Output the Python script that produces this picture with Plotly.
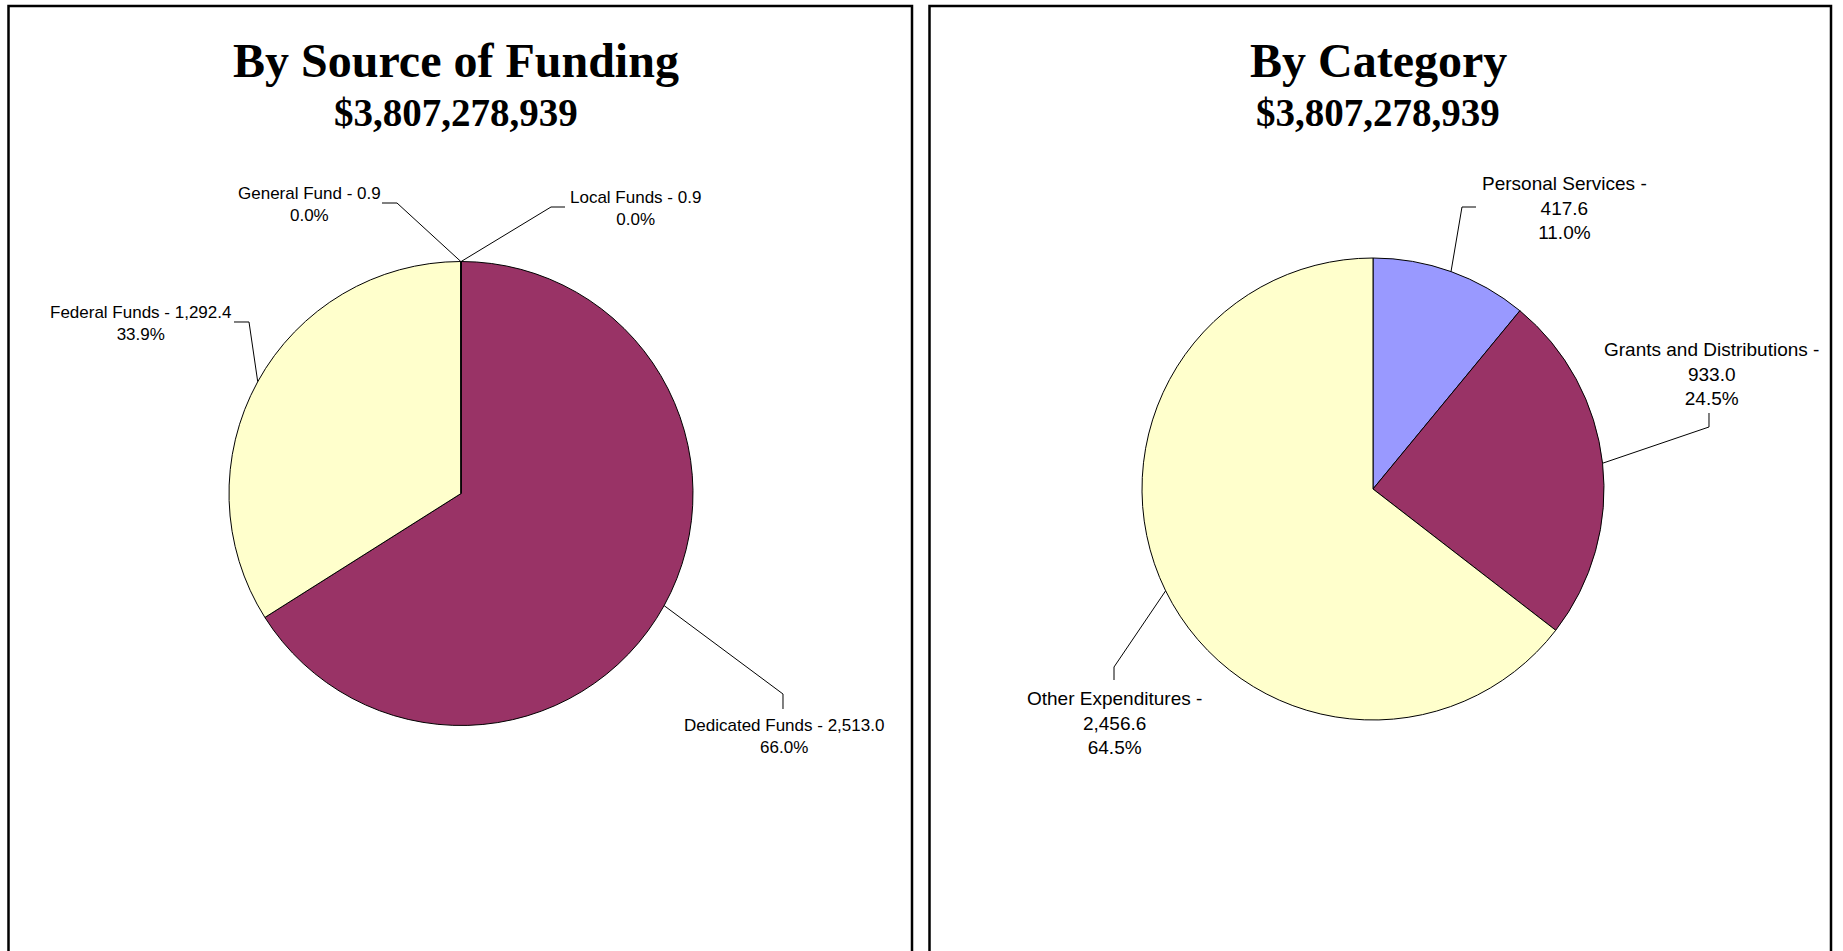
import math
import plotly.graph_objects as go

# ── Data (millions of dollars) ─────────────────────────
FUNDING_NAMES = ["Local Funds", "Dedicated Funds", "Federal Funds", "General Fund"]
FUNDING_VALUES = [0.9, 2513.0, 1292.4, 0.9]

CATEGORY_NAMES = ["Personal Services", "Grants and Distributions", "Other Expenditures"]
CATEGORY_VALUES = [417.6, 933.0, 2456.6]

PANEL_TITLES = ["By Source of Funding", "By Category"]
TOTAL_TEXT = "$3,807,278,939"

# old Excel chart palette
PALETTE = ["#9999FF", "#993366", "#FFFFCC", "#CCFFFF"]

# ── Layout (pixels in the 1843x951 page) ───────────────
W, H = 1843, 951
PANELS = [(8.5, 912), (929.5, 1831)]
PANEL_TOP = 6
PIES = [dict(cx=461, cy=493.5, r=232), dict(cx=1373, cy=489, r=231)]
TITLE_X = [456, 1378]

# label centre + leader elbow points (from the slice edge outwards)
FUNDING_LABELS = [
    dict(pos=(635.5, 208.5), leader=[(551, 207), (565, 207)]),
    dict(pos=(783.5, 736.5), leader=[(783, 694), (783, 709)]),
    dict(pos=(140, 323), leader=[(249, 322), (234, 322)]),
    dict(pos=(309, 204), leader=[(397, 203), (382, 203)]),
]
CATEGORY_LABELS = [
    dict(pos=(1564, 208.5), leader=[(1462, 207), (1476, 207)]),
    dict(pos=(1711, 374), leader=[(1709, 427), (1709, 413)]),
    dict(pos=(1114, 723), leader=[(1114, 667), (1114, 680)]),
]


def px(x, y):
    return x / W, 1 - y / H


def edge_point(values, i, pie):
    total = sum(values)
    mid = (sum(values[:i]) + values[i] / 2) / total * 2 * math.pi
    return pie["cx"] + pie["r"] * math.sin(mid), pie["cy"] - pie["r"] * math.cos(mid)


def domain(pie):
    x0, y0 = px(pie["cx"] - pie["r"], pie["cy"] + pie["r"])
    x1, y1 = px(pie["cx"] + pie["r"], pie["cy"] - pie["r"])
    return dict(x=[x0, x1], y=[y0, y1])


fig = go.Figure()
annotations = []
shapes = []


def add_pie(names, values, pie, labels, wrap, font_size):
    total = sum(values)
    fig.add_trace(go.Pie(
        labels=names, values=values, sort=False, direction="clockwise", rotation=0,
        marker=dict(colors=PALETTE[:len(values)], line=dict(color="black", width=1)),
        textinfo="none", hoverinfo="label+value+percent", domain=domain(pie), showlegend=False,
    ))
    for i, (name, val) in enumerate(zip(names, values)):
        pct = f"{val / total * 100:.1f}%"
        if wrap:
            text = f"{name} -<br>{val:,.1f}<br>{pct}"
        else:
            text = f"{name} - {val:,.1f}<br>{pct}"
        lab = labels[i]
        x, y = px(*lab["pos"])
        annotations.append(dict(
            x=x, y=y, xref="paper", yref="paper", text=text, showarrow=False,
            xanchor="center", yanchor="middle",
            font=dict(family="Liberation Sans, Arial", size=font_size, color="black"),
        ))
        pts = [edge_point(values, i, pie)] + lab["leader"]
        path = ""
        for j, p in enumerate(pts):
            qx, qy = px(*p)
            path += ("M" if j == 0 else " L") + f" {qx:.5f} {qy:.5f}"
        shapes.append(dict(type="path", xref="paper", yref="paper", path=path,
                           line=dict(color="black", width=1)))


add_pie(FUNDING_NAMES, FUNDING_VALUES, PIES[0], FUNDING_LABELS, False, 17)
add_pie(CATEGORY_NAMES, CATEGORY_VALUES, PIES[1], CATEGORY_LABELS, True, 19)

for (x0, x1), title, tx in zip(PANELS, PANEL_TITLES, TITLE_X):
    a, b = px(x0, PANEL_TOP)
    c, d = px(x1, H + 20)
    shapes.append(dict(type="rect", xref="paper", yref="paper", x0=a, x1=c, y0=d, y1=b,
                       line=dict(color="black", width=2.5)))
    tx_, ty = px(tx, 60)
    annotations.append(dict(x=tx_, y=ty, xref="paper", yref="paper", text=title, showarrow=False,
                            xanchor="center", yanchor="middle",
                            font=dict(family="Liberation Serif, Times New Roman", size=48,
                                      color="black", weight="bold")))
    tx_, ty = px(tx, 112)
    annotations.append(dict(x=tx_, y=ty, xref="paper", yref="paper", text=TOTAL_TEXT, showarrow=False,
                            xanchor="center", yanchor="middle",
                            font=dict(family="Liberation Serif, Times New Roman", size=39,
                                      color="black", weight="bold")))

fig.update_layout(
    width=W, height=H,
    margin=dict(l=0, r=0, t=0, b=0),
    paper_bgcolor="white", plot_bgcolor="white",
    annotations=annotations, shapes=shapes,
    showlegend=False,
)

fig.write_html("out.html", config={"displayModeBar": False},
               post_script="document.body.style.margin='0';document.body.style.overflow='hidden';")
